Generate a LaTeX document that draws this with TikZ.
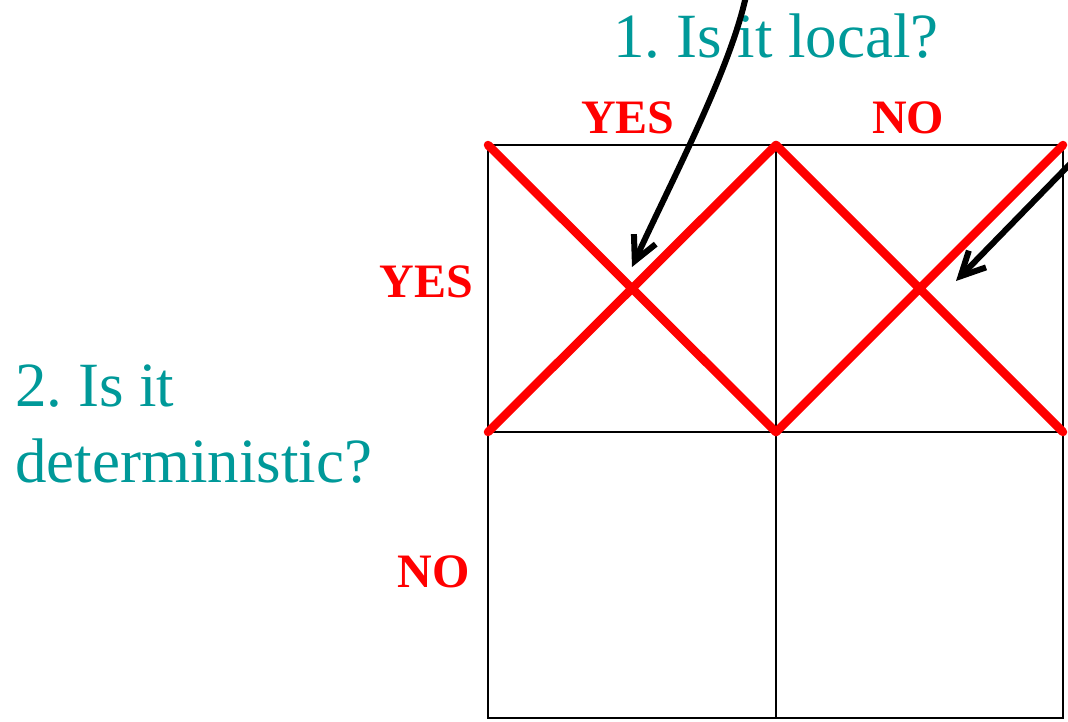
\documentclass[tikz,border=0pt]{standalone}
\usepackage{fontspec}
\setmainfont{Liberation Serif}
\usetikzlibrary{arrows.meta}
\definecolor{question}{RGB}{0,153,153}
\frenchspacing
\tikzset{
  gridline/.style={black,line width=2.4pt},
  cross/.style={red,line width=8.5pt,line cap=round},
  answer/.style={red,font=\fontsize{48}{52}\selectfont\bfseries,inner sep=0pt},
  query/.style={question,font=\fontsize{63}{76}\selectfont,inner sep=0pt},
  pointer/.style={black,line width=6pt,-{Straight Barb[length=24pt,width=24pt]}}
}
\begin{document}
\begin{tikzpicture}[x=1pt,y=-1pt]
		\useasboundingbox (0,0) rectangle (1068,721);
		% cell corners
		\coordinate (tl) at (488,145);
		\coordinate (tm) at (776,145);
		\coordinate (tr) at (1063,145);
		\coordinate (ml) at (488,432);
		\coordinate (mm) at (776,432);
		\coordinate (mr) at (1063,432);
		\coordinate (bl) at (488,718);
		\coordinate (bm) at (776,718);
		\coordinate (br) at (1063,718);
		% grid
		\draw[gridline] (tl) rectangle (br);
		\draw[gridline] (tm) -- (bm);
		\draw[gridline] (ml) -- (mr);
		% crossed out cells
		\draw[cross] (tl) -- (mm) (ml) -- (tm);
		\draw[cross] (tm) -- (mr) (mm) -- (tr);
		% questions
		\node[query,anchor=base] (local) at (776,57) {1. Is it local?};
		\node[query,anchor=base west,align=left] (determ) at (15,482) {2. Is it\\deterministic?};
		% answers
		\node[answer,anchor=base] (colyes) at (628,133) {YES};
		\node[answer,anchor=base] (colno) at (908,133) {NO};
		\node[answer,anchor=base east] (rowyes) at (473,297) {YES};
		\node[answer,anchor=base east] (rowno) at (470,587) {NO};
		% arrows
		\coordinate (p1) at (746,-4);
		\coordinate (q1) at (632,267);
		\coordinate (p2) at (1070,164);
		\coordinate (q2) at (956,281);
		\draw[pointer] (p1) .. controls (730,70) and (672,180) .. (q1);
		\draw[pointer] (p2) -- (q2);
	\end{tikzpicture}
\end{document}
